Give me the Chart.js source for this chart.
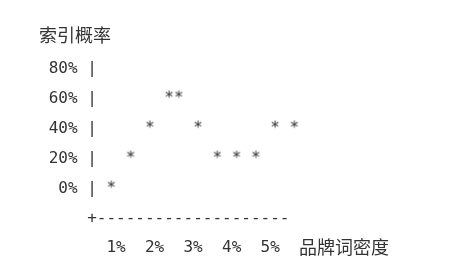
<!DOCTYPE html>
<html>
<head>
<meta charset="utf-8">
<script src="https://cdn.jsdelivr.net/npm/chart.js@4/dist/chart.umd.min.js"></script>
<style>
  html, body { margin: 0; padding: 0; background: #fff; }
  canvas { display: block; }
</style>
</head>
<body>
<canvas id="chart" width="461" height="272"></canvas>
<script>
// 数据
const densityPct = [0.875, 1.375, 1.875, 2.375, 2.625, 3.125, 3.625, 4.125, 4.625, 5.125, 5.625];
const indexPct = [0, 20, 40, 60, 60, 40, 20, 20, 20, 40, 40];
const xTicks = [1, 2, 3, 4, 5];
const yTicks = [0, 20, 40, 60, 80];
const yAxisFloor = -20;
const yTitle = '索引概率';
const xTitle = '品牌词密度';

const TEXT = '#333';
const MONO = '"DejaVu Sans Mono", monospace';
const CJK = '"Noto Sans CJK SC", sans-serif';
const Y_LABEL_W = 57.8; // 6 个等宽字符

// 用 "*" 字符当点
function makeStar() {
    const c = document.createElement('canvas');
    c.width = 20;
    c.height = 20;
    const g = c.getContext('2d');
    g.font = '16px ' + MONO;
    g.fillStyle = TEXT;
    g.textAlign = 'center';
    g.textBaseline = 'middle';
    g.fillText('*', 10, 10);
    return c;
}

Chart.defaults.font.family = MONO;
Chart.defaults.font.size = 16;
Chart.defaults.color = TEXT;

new Chart(document.getElementById('chart'), {
    type: 'scatter',
    data: {
        datasets: [{
            data: densityPct.map((x, i) => ({ x: x, y: indexPct[i] })),
            pointStyle: makeStar(),
            pointRadius: 5
        }]
    },
    options: {
        responsive: false,
        animation: false,
        layout: { padding: { left: 39, right: 72, top: 0, bottom: 14.2 } },
        plugins: {
            legend: { display: false },
            tooltip: { enabled: false },
            title: {
                display: true,
                text: yTitle,
                align: 'start',
                color: TEXT,
                font: { family: CJK, size: 18, weight: 'normal' },
                padding: { top: 24.8, bottom: 22.0 }
            }
        },
        scales: {
            x: {
                type: 'linear',
                min: 0.5,
                max: 8.084,
                grid: { display: false, drawTicks: false },
                border: { display: false },
                afterBuildTicks: s => { s.ticks = xTicks.map(v => ({ value: v })); },
                afterFit: s => { s.height = 39.2; },
                ticks: {
                    padding: 20,
                    maxRotation: 0,
                    callback: v => v + '%'
                },
                title: {
                    display: true,
                    text: xTitle,
                    align: 'end',
                    color: TEXT,
                    font: { family: CJK, size: 18 },
                    padding: 0
                }
            },
            y: {
                type: 'linear',
                min: yAxisFloor,
                max: 80,
                grid: { display: false, drawTicks: false },
                border: { display: false },
                afterBuildTicks: s => {
                    s.ticks = [yAxisFloor].concat(yTicks).map(v => ({ value: v }));
                },
                afterFit: s => { s.width = Y_LABEL_W; },
                ticks: {
                    // mirror 不裁剪标签，负 padding 把它移回轴左侧
                    mirror: true,
                    padding: -Y_LABEL_W,
                    crossAlign: 'near',
                    // 用字符画出纵轴 "|" 和横轴 "+----"
                    callback: v => v === yAxisFloor
                        ? '     +' + '-'.repeat(20)
                        : (v + '%').padStart(4) + ' |'
                }
            }
        }
    }
});
</script>
</body>
</html>
